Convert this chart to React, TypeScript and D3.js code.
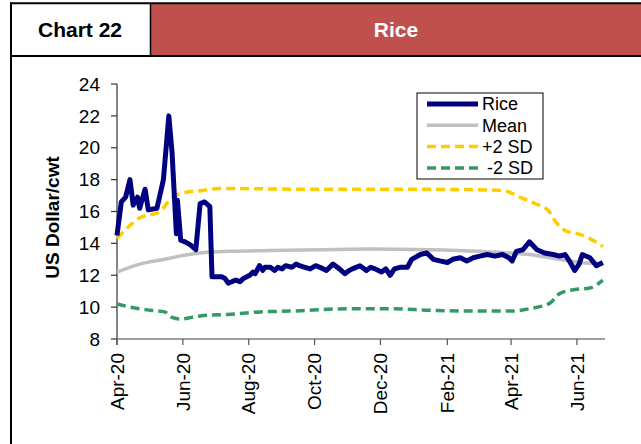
import React from 'react';
import * as d3 from 'd3';

// chart data
const riceDates = [
  '2020-04-01', '2020-04-05', '2020-04-09', '2020-04-13', '2020-04-16', '2020-04-20', '2020-04-22',
  '2020-04-27', '2020-04-30', '2020-05-08', '2020-05-14', '2020-05-19', '2020-05-22', '2020-05-26',
  '2020-05-27', '2020-05-30', '2020-06-03', '2020-06-08', '2020-06-13', '2020-06-17', '2020-06-21',
  '2020-06-26', '2020-06-28', '2020-07-07', '2020-07-10', '2020-07-13', '2020-07-20', '2020-07-24',
  '2020-07-27', '2020-08-02', '2020-08-05', '2020-08-07', '2020-08-11', '2020-08-14', '2020-08-16',
  '2020-08-21', '2020-08-25', '2020-08-28', '2020-09-01', '2020-09-04', '2020-09-10', '2020-09-14',
  '2020-09-17', '2020-09-22', '2020-09-27', '2020-10-02', '2020-10-06', '2020-10-12', '2020-10-18',
  '2020-10-24', '2020-10-29', '2020-11-02', '2020-11-05', '2020-11-12', '2020-11-18', '2020-11-22',
  '2020-11-26', '2020-12-02', '2020-12-06', '2020-12-10', '2020-12-14', '2020-12-19', '2020-12-26',
  '2020-12-30', '2021-01-07', '2021-01-13', '2021-01-19', '2021-01-25', '2021-02-01', '2021-02-06',
  '2021-02-13', '2021-02-19', '2021-02-25', '2021-03-03', '2021-03-10', '2021-03-17', '2021-03-24',
  '2021-03-30', '2021-04-02', '2021-04-06', '2021-04-12', '2021-04-18', '2021-04-25', '2021-05-02',
  '2021-05-10', '2021-05-16', '2021-05-21', '2021-05-25', '2021-05-30', '2021-06-03', '2021-06-06',
  '2021-06-13', '2021-06-19', '2021-06-25',
];
const riceValues = [
  14.5, 16.6, 16.9, 18.0, 16.4, 16.9, 16.2,
  17.4, 16.1, 16.2, 18.0, 22.0, 19.7, 14.6,
  16.7, 14.2, 14.1, 13.9, 13.6, 16.5, 16.6,
  16.3, 11.9, 11.9, 11.8, 11.5, 11.7, 11.6,
  11.8, 12.0, 12.2, 12.1, 12.6, 12.3, 12.5,
  12.5, 12.3, 12.5, 12.4, 12.6, 12.5, 12.7,
  12.6, 12.5, 12.4, 12.6, 12.5, 12.3, 12.7,
  12.4, 12.1, 12.3, 12.4, 12.6, 12.3, 12.5,
  12.4, 12.2, 12.4, 12.0, 12.4, 12.5, 12.5,
  13.0, 13.3, 13.4, 13.0, 12.9, 12.8, 13.0,
  13.1, 12.9, 13.1, 13.2, 13.3, 13.2, 13.3,
  13.1, 12.9, 13.5, 13.6, 14.1, 13.6, 13.4,
  13.3, 13.2, 13.3, 12.9, 12.3, 12.7, 13.3,
  13.1, 12.6, 12.8,
];

const meanDates = [
  '2020-04-01', '2020-04-22', '2020-05-15', '2020-05-29', '2020-06-17', '2020-07-15', '2020-08-21',
  '2020-10-06', '2020-11-21', '2021-01-16', '2021-03-03', '2021-03-31', '2021-04-18', '2021-05-07',
  '2021-05-25', '2021-06-13', '2021-06-25',
];
const meanValues = [
  12.2, 12.7, 13.0, 13.2, 13.4, 13.5, 13.55,
  13.6, 13.65, 13.6, 13.5, 13.4, 13.3, 13.1,
  12.9, 12.75, 12.7,
];

const upperDates = [
  '2020-04-01', '2020-04-08', '2020-04-16', '2020-04-22', '2020-05-02', '2020-05-11', '2020-05-17',
  '2020-05-25', '2020-06-03', '2020-06-17', '2020-07-05', '2020-09-17', '2020-12-19', '2021-03-12',
  '2021-03-26', '2021-04-09', '2021-04-23', '2021-05-05', '2021-05-13', '2021-05-21', '2021-06-02',
  '2021-06-13', '2021-06-25',
];
const upperValues = [
  14.3, 14.8, 15.3, 15.6, 15.8, 16.0, 16.5,
  17.0, 17.2, 17.3, 17.45, 17.4, 17.4, 17.35,
  17.3, 16.9, 16.5, 16.1, 15.3, 14.8, 14.6,
  14.3, 13.8,
];

const lowerDates = [
  '2020-04-01', '2020-04-13', '2020-05-02', '2020-05-15', '2020-05-22', '2020-05-29', '2020-06-17',
  '2020-07-15', '2020-08-11', '2020-09-08', '2020-11-03', '2020-12-10', '2021-01-16', '2021-03-03',
  '2021-03-31', '2021-04-18', '2021-05-07', '2021-05-16', '2021-05-30', '2021-06-13', '2021-06-25',
];
const lowerValues = [
  10.2, 10.0, 9.8, 9.7, 9.35, 9.25, 9.45,
  9.55, 9.7, 9.75, 9.9, 9.9, 9.8, 9.75,
  9.75, 9.9, 10.25, 10.85, 11.1, 11.2, 11.7,
];

const yTicks = [8, 10, 12, 14, 16, 18, 20, 22, 24];
const xTickLabels = ['Apr-20', 'Jun-20', 'Aug-20', 'Oct-20', 'Dec-20', 'Feb-21', 'Apr-21', 'Jun-21'];
const legendLabels = ['Rice', 'Mean', '+2 SD', ' -2 SD'];

const W = 641;
const H = 444;
const FONT = '"Liberation Sans", Arial, sans-serif';

const parse = d3.timeParse('%Y-%m-%d');
const tickParse = d3.timeParse('%b-%y');

type Pt = { date: Date; value: number };
const zip = (dates: string[], values: number[]): Pt[] =>
  dates.map((d, i) => ({ date: parse(d) as Date, value: values[i] }));

const series = [
  { name: legendLabels[0], data: zip(riceDates, riceValues), color: '#000080', width: 5, dash: null, smooth: false },
  { name: legendLabels[1], data: zip(meanDates, meanValues), color: '#C0C0C0', width: 3.5, dash: null, smooth: true },
  { name: legendLabels[2], data: zip(upperDates, upperValues), color: '#FFCC00', width: 3.5, dash: '9,5', smooth: true },
  { name: legendLabels[3], data: zip(lowerDates, lowerValues), color: '#339966', width: 3.5, dash: '9,5', smooth: true },
];

export default function App() {
  const x = d3.scaleTime()
    .domain([parse('2020-04-01') as Date, parse('2021-06-27') as Date])
    .range([117, 605]);
  const y = d3.scaleLinear().domain([8, 24]).range([339, 84]);

  const lineFor = (smooth: boolean) =>
    d3.line<Pt>()
      .x((d) => x(d.date))
      .y((d) => y(d.value))
      .curve(smooth ? d3.curveMonotoneX : d3.curveLinear);

  // draw order: bands first, then mean, then rice on top
  const drawOrder = [series[2], series[3], series[1], series[0]];

  return (
    <svg width={W} height={H} style={{ position: 'absolute', left: 0, top: 0 }} fontFamily={FONT}>
      <rect x={0} y={0} width={W} height={H} fill="#fff" />

      {/* header */}
      <rect x={151} y={4} width={W - 151} height={51} fill="#C0504D" />
      <line x1={10} x2={W} y1={3.3} y2={3.3} stroke="#000" strokeWidth={2} />
      <line x1={10} x2={W} y1={56} y2={56} stroke="#000" strokeWidth={2} />
      <line x1={150.5} x2={150.5} y1={3} y2={56} stroke="#000" strokeWidth={1.5} />
      <line x1={11} x2={11} y1={2.3} y2={H} stroke="#000" strokeWidth={2} />
      <text x={80} y={37} textAnchor="middle" fontSize={21} fontWeight="bold" fill="#000">Chart 22</text>
      <text x={396} y={37} textAnchor="middle" fontSize={21} fontWeight="bold" fill="#fff">Rice</text>

      {/* y axis */}
      <line x1={117} x2={117} y1={y(24)} y2={y(8) + 6} stroke="#333" strokeWidth={1.2} />
      {yTicks.map((t) => (
        <g key={t}>
          <line x1={111} x2={117} y1={y(t)} y2={y(t)} stroke="#333" strokeWidth={1.2} />
          <text x={100} y={y(t)} dy="0.35em" textAnchor="end" fontSize={19} fill="#000">{t}</text>
        </g>
      ))}
      <text
        transform={`translate(52,${(y(8) + y(24)) / 2 + 6}) rotate(-90)`}
        textAnchor="middle"
        dy="0.35em"
        fontSize={19}
        fontWeight="bold"
        fill="#000"
      >
        US Dollar/cwt
      </text>

      {/* x axis */}
      <line x1={117} x2={605} y1={y(8)} y2={y(8)} stroke="#808080" strokeWidth={1.5} />
      {xTickLabels.map((lab) => {
        const tx = x(tickParse(lab) as Date);
        return (
          <g key={lab}>
            <line x1={tx} x2={tx} y1={y(8)} y2={y(8) + 6} stroke="#555" strokeWidth={1.2} />
            <text
              transform={`translate(${tx},353) rotate(-90)`}
              textAnchor="end"
              dy="0.35em"
              fontSize={19}
              fill="#000"
            >
              {lab}
            </text>
          </g>
        );
      })}

      {/* series */}
      {drawOrder.map((s) => (
        <path
          key={s.name}
          d={lineFor(s.smooth)(s.data) || ''}
          fill="none"
          stroke={s.color}
          strokeWidth={s.width}
          strokeDasharray={s.dash || undefined}
          strokeLinejoin="round"
        />
      ))}

      {/* legend */}
      <rect x={417} y={93} width={126} height={86} fill="#fff" stroke="#000" strokeWidth={1} />
      {series.map((s, i) => {
        const ly = 104 + i * 21.3;
        return (
          <g key={s.name}>
            <line
              x1={427}
              x2={478}
              y1={ly}
              y2={ly}
              stroke={s.color}
              strokeWidth={s.width}
              strokeDasharray={s.dash || undefined}
            />
            <text x={482} y={ly} dy="0.35em" fontSize={18} fill="#000" style={{ whiteSpace: 'pre' }}>
              {s.name}
            </text>
          </g>
        );
      })}
    </svg>
  );
}
